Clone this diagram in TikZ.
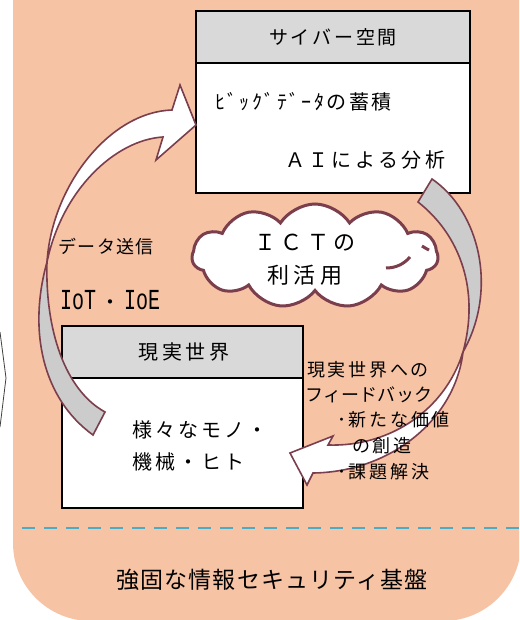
\documentclass[tikz,border=0pt]{standalone}
\usepackage{fontspec}
\setmainfont{Noto Sans CJK JP}
\newfontfamily\latinmono{Liberation Mono}
\usetikzlibrary{shapes.symbols}
\definecolor{peach}{RGB}{247,195,165}
\definecolor{hdrgray}{RGB}{217,217,217}
\definecolor{maroon}{RGB}{122,62,76}
\definecolor{arrowgray}{RGB}{204,204,204}
\definecolor{dashblue}{RGB}{75,172,198}
\tikzset{
  jp/.style 2 args={inner sep=0pt, font=\fontsize{#1}{#1}\selectfont\addfontfeature{LetterSpace=#2}},
  boxline/.style={draw=black, line width=2pt},
  divline/.style={draw=black, line width=1.5pt},
  arrowpart/.style={draw=maroon, line width=1.6pt, line join=miter},
  cloudshape/.style={cloud, cloud puffs=11, cloud puff arc=115, aspect=2.3, draw=maroon, line width=3pt, fill=white, minimum width=246pt, minimum height=104pt, inner sep=0pt},
}
\begin{document}
\begin{tikzpicture}[x=1pt,y=-1pt]
\useasboundingbox (0,0) rectangle (519,620);
\clip (0,0) rectangle (519,620);
% background
\fill[peach, rounded corners=78pt] (13,-100) rectangle (521,621);
\draw[black!75, line width=0.8pt] (0,332) -- (6,378) -- (0,427);
% dashed separator
\draw[dashblue, line width=2pt, dash pattern=on 13pt off 9pt] (22,528) -- (519,528);
% cyber box
\fill[white] (196,11) rectangle (470,193);
\fill[hdrgray] (196,11) rectangle (470,63);
\draw[divline] (196,63) -- (470,63);
\draw[boxline] (196,11) rectangle (470,193);
% real world box
\fill[white] (62,326) rectangle (303,508);
\fill[hdrgray] (62,326) rectangle (303,378);
\draw[divline] (62,378) -- (303,378);
\draw[boxline] (62,326) rectangle (303,508);
% cloud
\node[cloudshape] (cloud) at (315,256) {};
\draw[maroon, line width=3pt] (386,268) .. controls (396,268) and (404,264) .. (410,257);
\draw[maroon, line width=3pt] (422,246) .. controls (425,248) and (427,249) .. (429,250);
% left curved arrow
\filldraw[arrowpart, fill=arrowgray] (47,262) .. controls (28,330) and (42,398) .. (93,435) -- (105,412) .. controls (65,390) and (45,330) .. (47,262) -- cycle;
\filldraw[arrowpart, fill=white] (47,262) .. controls (52,185) and (110,112) .. (172,110) -- (180,85) -- (196,125) -- (156,160) -- (163,137) .. controls (115,140) and (62,190) .. (47,262) -- cycle;
% right curved arrow
\filldraw[arrowpart, fill=arrowgray] (463,352) .. controls (498,290) and (480,212) .. (432,179) -- (418,202) .. controls (460,235) and (480,290) .. (463,352) -- cycle;
\filldraw[arrowpart, fill=white] (463,352) .. controls (445,410) and (390,447) .. (328,445) -- (333,436) -- (290,453) -- (307,485) -- (313,473) .. controls (390,472) and (455,420) .. (463,352) -- cycle;
% texts
\node[jp={19}{15}] (cybertitle) at (333,37) {サイバー空間};
\node[jp={20}{12}, anchor=west] (bigdata) at (215,102) {ﾋﾞｯｸﾞﾃﾞｰﾀの蓄積};
\node[jp={20}{17}, anchor=west] (ai) at (285,160) {ＡＩによる分析};
\node[jp={22}{20}] (ict1) at (305,243) {ＩＣＴの};
\node[jp={22}{20}] (ict2) at (305,275) {利活用};
\node[jp={18}{8}, anchor=west] (send) at (58,247) {データ送信};
\node[inner sep=0pt, anchor=west] (iot) at (60,300) {\scalebox{1}[1.45]{\latinmono\fontsize{20}{20}\selectfont IoT}\hspace{4pt}{\fontsize{20}{20}\selectfont ・}\hspace{4pt}\scalebox{1}[1.45]{\latinmono\fontsize{20}{20}\selectfont IoE}};
\node[jp={20}{17}] (realtitle) at (184,352) {現実世界};
\node[jp={20}{15}, anchor=west] (things1) at (132,430) {様々なモノ・};
\node[jp={20}{15}, anchor=west] (things2) at (132,462) {機械・ヒト};
\node[jp={18}{15}, anchor=west] (fb1) at (307,370) {現実世界への};
\node[jp={18}{15}, anchor=west] (fb2) at (307,395) {\addfontfeature{RawFeature=+palt}フィードバック};
\node[jp={18}{15}, anchor=west] (fb3) at (337,420) {･新たな価値};
\node[jp={18}{15}, anchor=west] (fb4) at (352,446) {の創造};
\node[jp={18}{15}, anchor=west] (fb5) at (337,472) {･課題解決};
\node[jp={23}{5}] (basetext) at (272,580) {強固な情報セキュリティ基盤};
\end{tikzpicture}
\end{document}
